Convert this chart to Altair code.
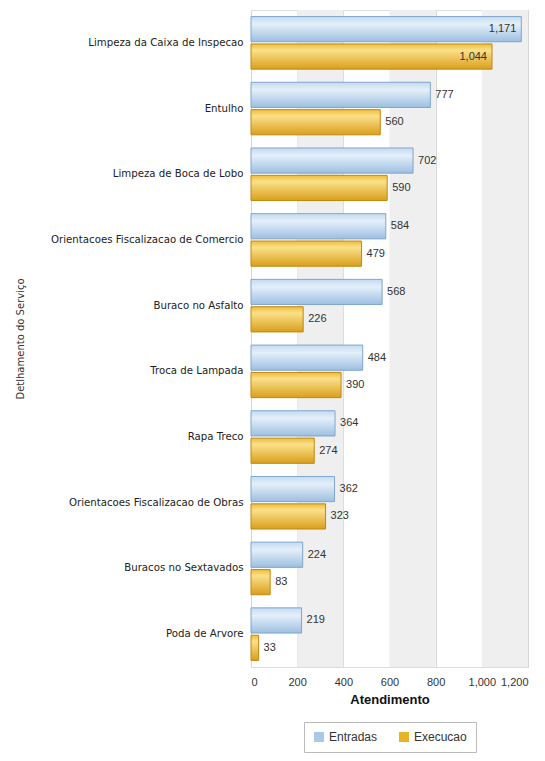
import altair as alt
import pandas as pd

categories = [
    "Limpeza da Caixa de Inspecao",
    "Entulho",
    "Limpeza de Boca de Lobo",
    "Orientacoes Fiscalizacao de Comercio",
    "Buraco no Asfalto",
    "Troca de Lampada",
    "Rapa Treco",
    "Orientacoes Fiscalizacao de Obras",
    "Buracos no Sextavados",
    "Poda de Arvore",
]
entradas = [1171, 777, 702, 584, 568, 484, 364, 362, 224, 219]
execucao = [1044, 560, 590, 479, 226, 390, 274, 323, 83, 33]
series = ["Entradas", "Execucao"]
x_ticks = [0, 200, 400, 600, 800, 1000, 1200]
band_starts = [200, 600, 1000]

rows = []
for c, a, b in zip(categories, entradas, execucao):
    rows.append({"cat": c, "serie": "Entradas", "value": a})
    rows.append({"cat": c, "serie": "Execucao", "value": b})
df = pd.DataFrame(rows)
bands = pd.DataFrame({"x0": band_starts, "x1": [s + 200 for s in band_starts]})

W, H = 277, 657

xscale = alt.Scale(domain=[0, 1200], nice=False)
yscale = alt.Scale(domain=categories, paddingInner=0.2, paddingOuter=0.1)
yoff = alt.YOffset("serie:N", scale=alt.Scale(domain=series, paddingInner=0.08))

x_enc = alt.X("value:Q", scale=xscale,
              axis=alt.Axis(values=x_ticks, format=",d", title="Atendimento",
                            grid=True, gridColor="#d6d6d6", domain=False, ticks=False,
                            labelFont="Liberation Sans", labelFontSize=11, labelColor="#333",
                            labelPadding=9, titleFont="Liberation Sans", titleFontSize=13,
                            titleFontWeight="bold", titleColor="#111", titlePadding=6))
y_enc = alt.Y("cat:N", scale=yscale, sort=categories,
              axis=alt.Axis(title="Detlhamento do Serviço", domain=False, ticks=False,
                            labelFont="DejaVu Sans", labelFontSize=10.2, labelColor="#222",
                            labelPadding=8, labelLimit=300, titleFont="DejaVu Sans",
                            titleFontSize=10, titleFontWeight="normal", titleColor="#333",
                            titlePadding=26))

band_layer = alt.Chart(bands).mark_rect(color="#efefef").encode(
    x=alt.X("x0:Q", scale=xscale), x2="x1:Q")

blue_grad = alt.LinearGradient(gradient="linear", x1=0, x2=0, y1=0, y2=1, stops=[
    alt.GradientStop(offset=0, color="#c4dbf1"),
    alt.GradientStop(offset=0.3, color="#e4eff9"),
    alt.GradientStop(offset=1, color="#9dbfe1")])
gold_grad = alt.LinearGradient(gradient="linear", x1=0, x2=0, y1=0, y2=1, stops=[
    alt.GradientStop(offset=0, color="#eebd3a"),
    alt.GradientStop(offset=0.25, color="#fbe08a"),
    alt.GradientStop(offset=1, color="#d99f1c")])

base = alt.Chart(df)
bar_blue = base.transform_filter(alt.datum.serie == "Entradas").mark_bar(
    color=blue_grad, stroke="#7fa6cc", strokeWidth=1).encode(x=x_enc, y=y_enc, yOffset=yoff)
bar_gold = base.transform_filter(alt.datum.serie == "Execucao").mark_bar(
    color=gold_grad, stroke="#c0890f", strokeWidth=1).encode(x=x_enc, y=y_enc, yOffset=yoff)

txt_out = base.transform_filter(alt.datum.value < 1000).mark_text(
    align="left", baseline="middle", dx=5, font="Liberation Sans", fontSize=11, color="#333"
).encode(x=x_enc, y=y_enc, yOffset=yoff, text=alt.Text("value:Q", format=",d"))
txt_in = base.transform_filter(alt.datum.value >= 1000).mark_text(
    align="right", baseline="middle", dx=-5, font="Liberation Sans", fontSize=11, color="#333"
).encode(x=x_enc, y=y_enc, yOffset=yoff, text=alt.Text("value:Q", format=",d"))

legend_layer = base.mark_square(opacity=0, size=1).encode(
    x=x_enc, y=y_enc,
    color=alt.Color("serie:N", scale=alt.Scale(domain=series, range=["#a9c9e9", "#e8b426"]),
                    legend=alt.Legend(title=None, orient="none", legendX=53, legendY=712,
                                      direction="horizontal", symbolType="square",
                                      symbolOpacity=1, symbolSize=100, symbolStrokeWidth=0,
                                      labelFont="Liberation Sans", labelFontSize=12,
                                      labelColor="#333", padding=9, strokeColor="#bbb",
                                      fillColor="#ffffff", columnPadding=20)))

chart = alt.layer(band_layer, bar_blue, bar_gold, txt_out, txt_in, legend_layer).properties(
    width=W, height=H, padding={"left": 7, "top": 2, "right": 5, "bottom": 5}
).configure_view(stroke="#cccccc").configure(background="white")

chart.save("out.html", embed_options={"renderer": "svg", "actions": False})
